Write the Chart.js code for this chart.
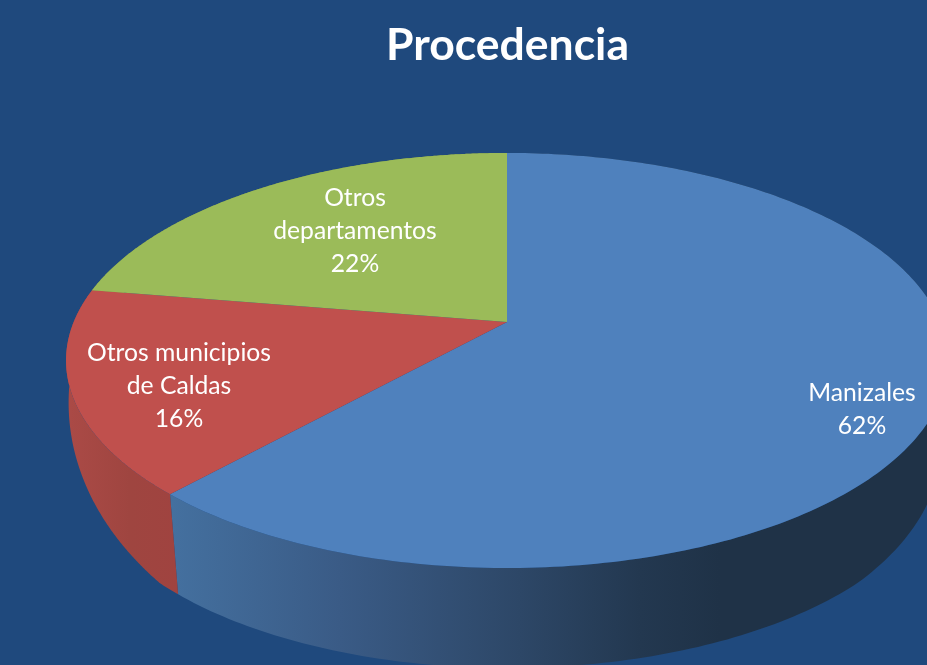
<!DOCTYPE html>
<html>
<head>
<meta charset="utf-8">
<style>
html,body{margin:0;padding:0;background:#1f497d;overflow:hidden}
canvas{display:block}
</style>
<script src="https://cdn.jsdelivr.net/npm/chart.js@4"></script>
</head>
<body>
<canvas id="c" width="927" height="665"></canvas>
<script>
const categories = ['Manizales', 'Otros municipios de Caldas', 'Otros departamentos'];
const values = [61.7, 15.9, 22.4];
const colors = ['#4f81bd', '#c0504d', '#9bbb59'];
const labelLines = [['Manizales', '62%'], ['Otros municipios', 'de Caldas', '16%'], ['Otros', 'departamentos', '22%']];

// projection of the pie disc onto the page (perspective view)
const view = { cx: 507, cy: 322, a: 433.3, b: 200.4, k: -0.1855, depth: 100 };
const labelAnchors = [{ x: 862, y: 410 }, { x: 179, y: 386 }, { x: 355, y: 231 }];
const sideStops = [
  [[172, '#44709f'], [340, '#3a5b86'], [520, '#2d4767'], [640, '#233850'], [720, '#1f3247']],
  [[70, '#aa4a46'], [130, '#9f4540'], [180, '#a04340']],
  [[0, '#7c9547'], [200, '#7c9547']]
];

function rimTop(ang) {
  const u = Math.cos(ang), v = Math.sin(ang), d = 1 + view.k * v;
  return { x: view.cx + view.a * u / d, y: view.cy + view.b * v / d };
}
function rimBottom(ang) {
  const p = rimTop(ang), u = Math.cos(ang), t = Math.min(1, Math.max(0, Math.sin(ang) / 0.7));
  const depth = u < 0 ? 35 + 65 * t : view.depth - 22 * (1 - t);
  const shrink = u < 0 ? 1 - 0.024 * t : 0.985;
  return { x: view.cx + (p.x - view.cx) * shrink, y: p.y + depth };
}
function sweep(el) {
  const out = [], n = 240;
  for (let i = 0; i <= n; i++) out.push(el.startAngle + (el.endAngle - el.startAngle) * i / n);
  return out;
}

const pie3d = {
  id: 'pie3d',
  beforeDatasetDraw(chart, args) {
    const ctx = chart.ctx, arcs = args.meta.data;
    ctx.save();
    // side walls
    arcs.forEach((el, i) => {
      const g = ctx.createLinearGradient(0, 0, chart.width, 0);
      sideStops[i].forEach(s => g.addColorStop(s[0] / chart.width, s[1]));
      const as = sweep(el);
      ctx.beginPath();
      as.forEach((a, j) => { const p = rimTop(a); j ? ctx.lineTo(p.x, p.y) : ctx.moveTo(p.x, p.y); });
      as.slice().reverse().forEach(a => { const p = rimBottom(a); ctx.lineTo(p.x, p.y); });
      ctx.closePath();
      ctx.fillStyle = g;
      ctx.fill();
    });
    // top faces
    arcs.forEach((el, i) => {
      ctx.beginPath();
      ctx.moveTo(view.cx, view.cy);
      sweep(el).forEach(a => { const p = rimTop(a); ctx.lineTo(p.x, p.y); });
      ctx.closePath();
      ctx.fillStyle = colors[i];
      ctx.fill();
    });
    // labels
    ctx.fillStyle = '#ffffff';
    ctx.font = '24.7px Lato, sans-serif';
    ctx.textAlign = 'center';
    ctx.textBaseline = 'middle';
    labelLines.forEach((lines, i) => {
      lines.forEach((t, j) => {
        ctx.fillText(t, labelAnchors[i].x, labelAnchors[i].y + (j - (lines.length - 1) / 2) * 33);
      });
    });
    ctx.restore();
    return false;
  }
};

new Chart(document.getElementById('c'), {
  type: 'pie',
  data: { labels: categories, datasets: [{ data: values, backgroundColor: colors, borderWidth: 0 }] },
  options: {
    responsive: false,
    animation: false,
    events: [],
    layout: { padding: { left: 88, top: 19 } },
    plugins: {
      legend: { display: false },
      tooltip: { enabled: false },
      title: {
        display: true,
        text: 'Procedencia',
        color: '#ffffff',
        font: { family: 'Lato, sans-serif', size: 44.5, weight: 'bold' },
        padding: 0
      }
    }
  },
  plugins: [pie3d]
});
</script>
</body>
</html>
